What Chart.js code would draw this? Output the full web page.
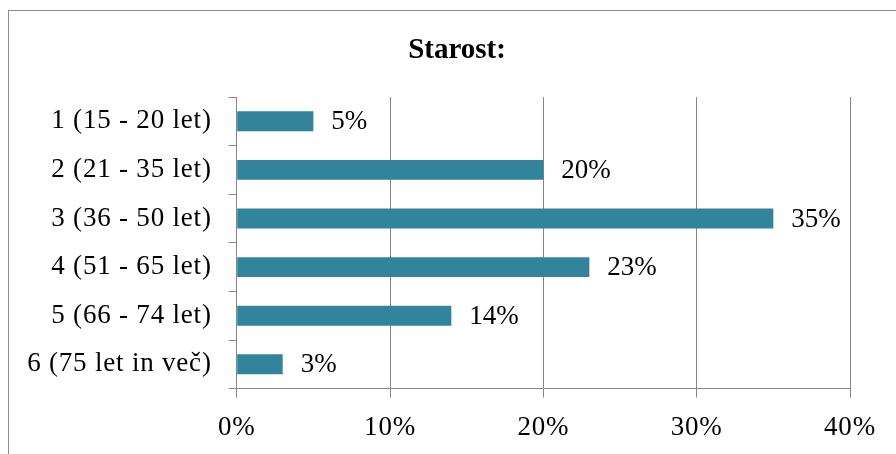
<!DOCTYPE html>
<html>
<head>
<meta charset="utf-8">
<script src="https://cdn.jsdelivr.net/npm/chart.js@4/dist/chart.umd.min.js"></script>
<style>
  html, body { margin: 0; padding: 0; background: #fff; overflow: hidden; }
  #frame { position: absolute; left: 8px; top: 10px; width: 1000px; height: 1000px; border: 1px solid #8c8c8c; box-sizing: border-box; }
  #wrap { position: absolute; left: 0; top: 0; width: 896px; height: 454px; }
</style>
</head>
<body>
<div id="frame"></div>
<div id="wrap"><canvas id="c" width="896" height="454"></canvas></div>
<script>
const categories = ['1 (15 - 20 let)', '2 (21 - 35 let)', '3 (36 - 50 let)', '4 (51 - 65 let)', '5 (66 - 74 let)', '6 (75 let in več)'];
const values = [5, 20, 35, 23, 14, 3];
const xTicks = [0, 10, 20, 30, 40];
const titleText = 'Starost:';

const FONT = '"Liberation Serif", "Times New Roman", serif';
const GRID = '#868686';

const spacing = {
  id: 'spacing',
  beforeDraw(chart) { chart.ctx.letterSpacing = '0.8px'; }
};

const titleAndLabels = {
  id: 'titleAndLabels',
  afterDatasetsDraw(chart) {
    const ctx = chart.ctx;
    const meta = chart.getDatasetMeta(0);
    ctx.save();
    ctx.letterSpacing = '0px';
    ctx.fillStyle = '#000';
    ctx.font = 'bold 29px ' + FONT;
    ctx.textAlign = 'center';
    ctx.textBaseline = 'alphabetic';
    ctx.fillText(titleText, 457, 58);
    ctx.font = '27px ' + FONT;
    ctx.textAlign = 'left';
    ctx.textBaseline = 'middle';
    meta.data.forEach((bar, i) => {
      ctx.fillText(values[i] + '%', bar.x + 18, bar.y + 1);
    });
    ctx.restore();
  }
};

new Chart(document.getElementById('c'), {
  type: 'bar',
  data: {
    labels: categories,
    datasets: [{
      data: values,
      backgroundColor: '#31849B',
      borderWidth: 0,
      categoryPercentage: 1,
      barPercentage: 0.41
    }]
  },
  options: {
    indexAxis: 'y',
    responsive: false,
    animation: false,
    layout: { padding: { left: 10, right: 46, top: 97, bottom: -4 } },
    plugins: {
      legend: { display: false },
      tooltip: { enabled: false },
      title: { display: false }
    },
    scales: {
      x: {
        min: xTicks[0],
        max: xTicks[xTicks.length - 1],
        afterBuildTicks(scale) { scale.ticks = xTicks.map(v => ({ value: v })); },
        ticks: {
          color: '#000',
          font: { family: FONT, size: 27 },
          padding: 14,
          callback: v => v + '%'
        },
        grid: { color: GRID, lineWidth: 1, tickLength: 9, drawTicks: true },
        border: { color: GRID, width: 1 }
      },
      y: {
        offset: true,
        afterFit(scale) { scale.width = 226.7; },
        ticks: {
          color: '#000',
          font: { family: FONT, size: 27 },
          padding: 17
        },
        grid: { offset: true, drawOnChartArea: false, color: GRID, tickLength: 8 },
        border: { color: GRID, width: 1 }
      }
    }
  },
  plugins: [spacing, titleAndLabels]
});
</script>
</body>
</html>
